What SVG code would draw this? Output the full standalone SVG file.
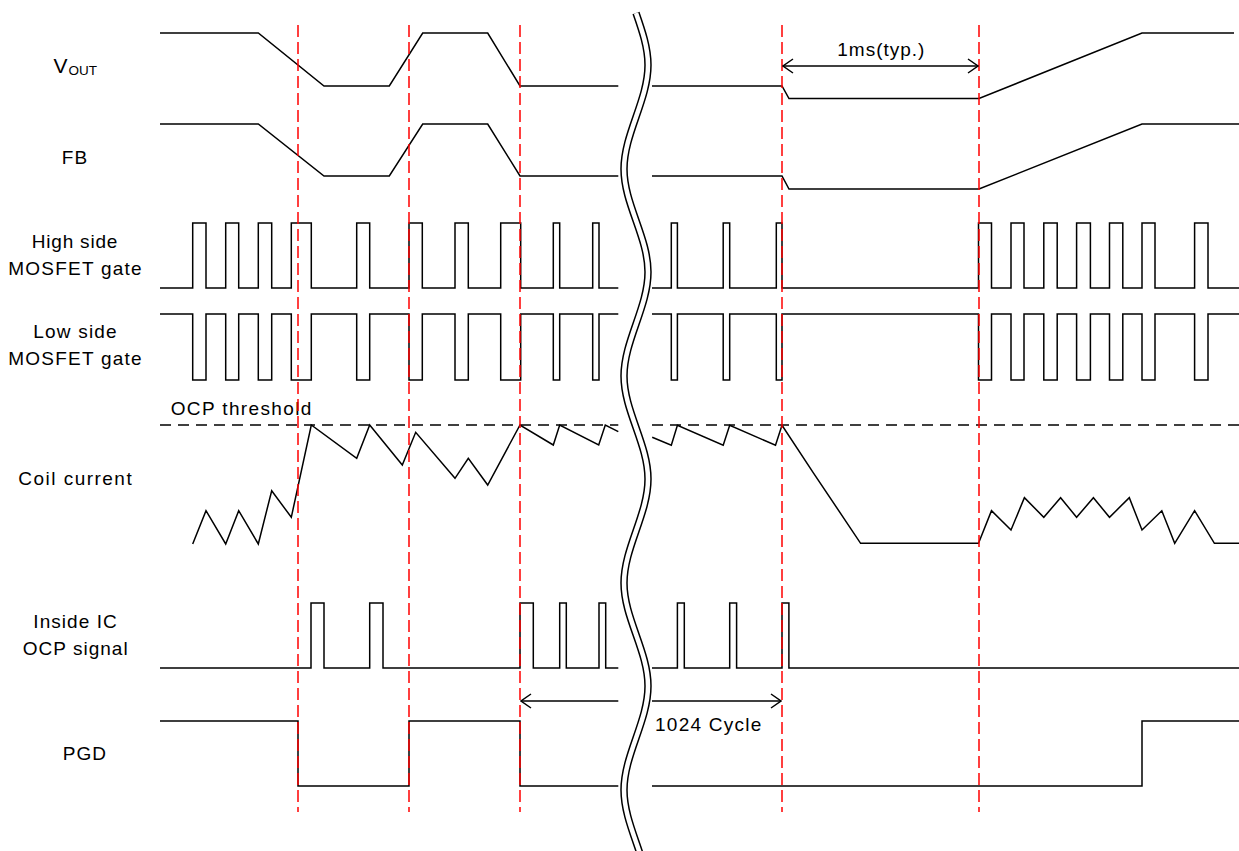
<svg xmlns="http://www.w3.org/2000/svg" width="1239" height="851" viewBox="0 0 1239 851">
<style>
.sig{fill:none;stroke:#000;stroke-width:1.5;stroke-linejoin:miter}
.guide{stroke:#ff0000;stroke-width:1.5;stroke-dasharray:12 5}
.thr{stroke:#000;stroke-width:1.5;stroke-dasharray:11 7}
.arr{stroke:#000;stroke-width:1.5;fill:none}
.lbl{font-family:"Liberation Sans",Arial,sans-serif;font-size:19px;fill:#000}
</style>
<defs>
<marker id="chev" viewBox="0 0 12 16" refX="11" refY="8" markerWidth="12" markerHeight="16" markerUnits="userSpaceOnUse" orient="auto-start-reverse">
<path d="M1,1 L11,8 L1,15" fill="none" stroke="#000" stroke-width="1.5"/>
</marker>
</defs>
<rect width="1239" height="851" fill="#fff"/>

<g id="labels">
<text class="lbl" x="53.5" y="73.3" style="font-size:21px">V<tspan x="68.5" dy="1.7" style="font-size:13.5px">OUT</tspan></text>
<text class="lbl" x="61.7" y="164" textLength="25.6" lengthAdjust="spacing">FB</text>
<text class="lbl" x="31.7" y="248.3" textLength="85.7" lengthAdjust="spacing">High side</text>
<text class="lbl" x="8.3" y="275" textLength="133.4" lengthAdjust="spacing">MOSFET gate</text>
<text class="lbl" x="33.3" y="338.3" textLength="83.4" lengthAdjust="spacing">Low side</text>
<text class="lbl" x="8.3" y="365" textLength="133.4" lengthAdjust="spacing">MOSFET gate</text>
<text class="lbl" x="18.3" y="485" textLength="113.4" lengthAdjust="spacing">Coil current</text>
<text class="lbl" x="33.3" y="628.3" textLength="83.4" lengthAdjust="spacing">Inside IC</text>
<text class="lbl" x="22.7" y="655" textLength="105" lengthAdjust="spacing">OCP signal</text>
<text class="lbl" x="62.7" y="760" textLength="43.3" lengthAdjust="spacing">PGD</text>
</g>

<g id="vout">
<polyline class="sig" points="160,33 258.3,33 324,86 389.3,86 422.7,33 487.7,33 520,86 618.3,86"/>
<polyline class="sig" points="652,86 782,86 789,98.5 979,98.5 1142,33 1234,33"/>
</g>

<g id="fb">
<polyline class="sig" points="160,124 258.3,124 324,176 389.3,176 422.7,124 487.7,124 520,176 618.3,176"/>
<polyline class="sig" points="652,176 782,176 789,189 979,189 1142,124 1239,124"/>
</g>

<g id="hs-gate">
<path class="sig" d="M160,288 H192.7 V223 H206 V288 H225.7 V223 H238.7 V288 H258.3 V223 H271.7 V288 H291.3 V223 H311.3 V288 H356.7 V223 H369.7 V288 H409 V223 H422.3 V288 H455 V223 H468.3 V288 H500.7 V223 H520.7 V288 H553.3 V223 H559.7 V288 H592.7 V223 H599 V288 H618.3"/>
<path class="sig" d="M652,288 H671.3 V223 H677.4 V288 H723.2 V223 H729.7 V288 H776.3 V223 H782 V288 H978.5 V223 H991.5 V288 H1011 V223 H1024 V288 H1043.8 V223 H1057.2 V288 H1076.6 V223 H1090.4 V288 H1109.5 V223 H1122.8 V288 H1142 V223 H1155 V288 H1194.6 V223 H1208 V288 H1239"/>
</g>

<g id="ls-gate">
<path class="sig" d="M160,314 H192.7 V380 H206 V314 H225.7 V380 H238.7 V314 H258.3 V380 H271.7 V314 H291.3 V380 H311.3 V314 H356.7 V380 H369.7 V314 H409 V380 H422.3 V314 H455 V380 H468.3 V314 H500.7 V380 H520.7 V314 H553.3 V380 H559.7 V314 H592.7 V380 H599 V314 H618.3"/>
<path class="sig" d="M652,314 H671.3 V380 H677.4 V314 H723.2 V380 H729.7 V314 H776.3 V380 H782 V314 H978.5 V380 H991.5 V314 H1011 V380 H1024 V314 H1043.8 V380 H1057.2 V314 H1076.6 V380 H1090.4 V314 H1109.5 V380 H1122.8 V314 H1142 V380 H1155 V314 H1194.6 V380 H1208 V314 H1239"/>
</g>

<g id="coil-current">
<line class="thr" x1="160" y1="425" x2="618.3" y2="425"/>
<line class="thr" x1="652" y1="425" x2="1239" y2="425"/>
<text class="lbl" x="170.7" y="415" textLength="140.7" lengthAdjust="spacing">OCP threshold</text>
<polyline class="sig" points="192.7,544 206,510.7 225.7,544 238.7,510.7 258.3,544 271.7,490.7 291.3,517.3 311.3,425 356.7,458.3 369.7,425 402.3,465 415.7,432.3 455,478.3 468.3,458.3 487.7,485 520,425 553.3,445 559.7,425 598.7,445 605.3,425 618.3,431.7"/>
<polyline class="sig" points="652.2,437.3 671.3,445.3 677.4,425.3 723.2,445.3 729.7,425.3 775.5,445.3 782,425.3 813.7,473.3 860.6,543.3 978.5,543.3 991.5,510.7 1011,530 1024.4,497.7 1043.8,517.3 1060.6,497.7 1076.6,517.3 1093.4,497.7 1109.5,517.3 1129.3,497.7 1142,530 1161.8,510.7 1174.7,543.3 1194.6,510.7 1214.4,543.3 1239,543.3"/>
</g>

<g id="ocp-signal">
<path class="sig" d="M160,668 H311 V603 H324 V668 H369.7 V603 H383 V668 H520 V603 H533.3 V668 H559.7 V603 H566.3 V668 H599 V603 H605.7 V668 H618.3"/>
<path class="sig" d="M652,668 H677.4 V603 H684.3 V668 H729.7 V603 H736.6 V668 H782 V603 H788.9 V668 H1239"/>
</g>

<g id="pgd">
<path class="sig" d="M160,721 H298 V786 H409 V721 H520 V786 H618.3"/>
<path class="sig" d="M652,786 H1142 V721 H1239"/>
</g>

<g id="connectors">
<line class="guide" x1="298" y1="25" x2="298" y2="812"/>
<line class="guide" x1="409" y1="25" x2="409" y2="812"/>
<line class="guide" x1="520" y1="25" x2="520" y2="812"/>
<line class="guide" x1="782" y1="25" x2="782" y2="812"/>
<line class="guide" x1="979" y1="25" x2="979" y2="812"/>
<line class="arr" x1="783" y1="66" x2="978" y2="66" marker-start="url(#chev)" marker-end="url(#chev)"/>
<line class="arr" x1="618.3" y1="701" x2="521" y2="701" marker-end="url(#chev)"/>
<line class="arr" x1="652" y1="701" x2="781" y2="701" marker-end="url(#chev)"/>
</g>

<g id="annotations">
<text class="lbl" x="837.3" y="56" textLength="87" lengthAdjust="spacing">1ms(typ.)</text>
<text class="lbl" x="655" y="730.7" textLength="106.4" lengthAdjust="spacing">1024 Cycle</text>
</g>

<g id="break">
<path d="M636,13 C642,30.25 648,47.5 648,65 C648,100 624,134 624,169 C624,204 648,237 648,272 C648,307 624,341 624,376 C624,411 648,444 648,479 C648,514 624,548 624,583 C624,618 648,651 648,686 C648,721 624,755 624,790 C624,825 648,859 648,894" fill="none" stroke="#000" stroke-width="7.5"/>
<path d="M636,13 C642,30.25 648,47.5 648,65 C648,100 624,134 624,169 C624,204 648,237 648,272 C648,307 624,341 624,376 C624,411 648,444 648,479 C648,514 624,548 624,583 C624,618 648,651 648,686 C648,721 624,755 624,790 C624,825 648,859 648,894" fill="none" stroke="#fff" stroke-width="4.5"/>
</g>
</svg>
